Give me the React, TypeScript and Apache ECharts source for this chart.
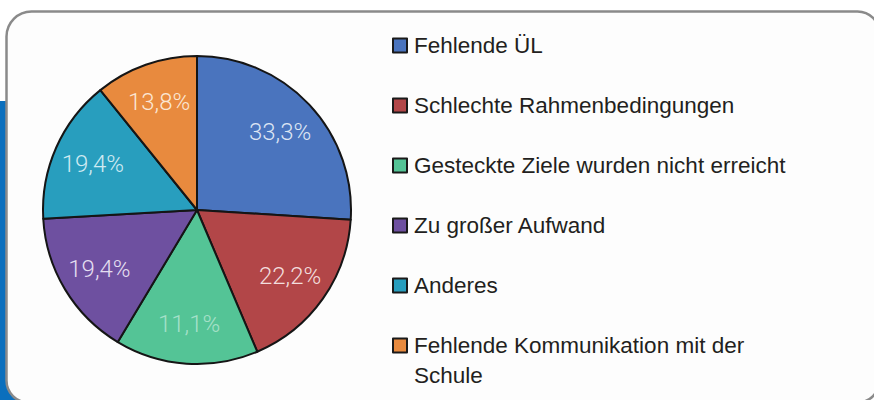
import React, { useEffect, useRef } from "react";
import * as echarts from "echarts";

// Categories (legend order = clockwise slice order from 12 o'clock)
const categories = [
  "Fehlende ÜL",
  "Schlechte Rahmenbedingungen",
  "Gesteckte Ziele wurden nicht erreicht",
  "Zu großer Aufwand",
  "Anderes",
  "Fehlende Kommunikation mit der Schule",
];

// How the legend wraps the long last entry
const legendWrapped: Record<string, string> = {
  "Fehlende Kommunikation mit der Schule": "Fehlende Kommunikation mit der\nSchule",
};

// Slice sizes as drawn in the picture (share of the full circle, in %)
const sliceShares = [26.0, 17.6, 15.0, 15.5, 15.1, 10.8];

// Percent labels printed on the slices
const printedLabels = ["33,3%", "22,2%", "11,1%", "19,4%", "19,4%", "13,8%"];

const sliceColors = ["#4a74be", "#b24648", "#54c496", "#6e50a0", "#289ebe", "#e88a3e"];
const labelColors = ["#dde5f4", "#f2dede", "rgba(235,250,245,0.55)", "#e4def0", "#cfeaf2", "#fbe6d4"];

export default function App() {
  const ref = useRef<HTMLDivElement>(null);
  useEffect(() => {
    if (!ref.current) return;
    const chart = echarts.init(ref.current, undefined, { renderer: "svg" });
    const pieData = categories.map((name, i) => ({
      name,
      value: sliceShares[i],
      itemStyle: { color: sliceColors[i] },
    }));
    const labelData = categories.map((name, i) => ({
      name,
      value: sliceShares[i],
      label: { color: labelColors[i] },
    }));
    chart.setOption({
      animation: false,
      backgroundColor: "transparent",
      graphic: [
        {
          type: "rect",
          z: -10,
          silent: true,
          shape: { x: 0, y: 101, width: 22, height: 310 },
          style: { fill: "#0b6fbd" },
        },
        {
          type: "rect",
          z: -9,
          silent: true,
          shape: { x: 6.5, y: 11.5, width: 873, height: 391, r: [25, 22, 22, 22] },
          style: { fill: "#fdfdfd", stroke: "#8a8a8a", lineWidth: 2.5 },
        },
      ],
      legend: {
        type: "plain",
        orient: "vertical",
        left: 392,
        top: 0.5,
        height: 800,
        padding: 0,
        itemWidth: 14,
        itemHeight: 14,
        itemGap: -30,
        icon: "rect",
        selectedMode: false,
        itemStyle: { borderColor: "#1a1a1a", borderWidth: 2 },
        textStyle: {
          fontFamily: "Liberation Sans, Arial, sans-serif",
          fontSize: 22.5,
          color: "#231f20",
          lineHeight: 30,
          padding: [0, 0, 0, 2],
        },
        // first line of each entry sits level with its square
        formatter: (name: string) =>
          legendWrapped[name] ? "\n" + legendWrapped[name] : "\n" + name + "\n",
        data: categories,
      },
      series: [
        {
          type: "pie",
          center: [197, 210],
          radius: [0, 154],
          startAngle: 90,
          clockwise: true,
          label: { show: false },
          labelLine: { show: false },
          itemStyle: { borderColor: "#151515", borderWidth: 2 },
          emphasis: { disabled: true },
          data: pieData,
        },
        {
          type: "pie",
          center: [197, 210],
          radius: [68, 154],
          startAngle: 90,
          clockwise: true,
          silent: true,
          legendHoverLink: false,
          itemStyle: { color: "transparent", borderWidth: 0 },
          label: {
            show: true,
            position: "inside",
            fontFamily: "Roboto, sans-serif",
            fontWeight: 300,
            fontSize: 24,
            formatter: (p: any) => printedLabels[p.dataIndex],
          },
          labelLine: { show: false },
          emphasis: { disabled: true },
          data: labelData,
        },
      ],
    });
    return () => chart.dispose();
  }, []);
  return (
    <div
      ref={ref}
      style={{ position: "absolute", left: 0, top: 0, width: 874, height: 400 }}
    />
  );
}
